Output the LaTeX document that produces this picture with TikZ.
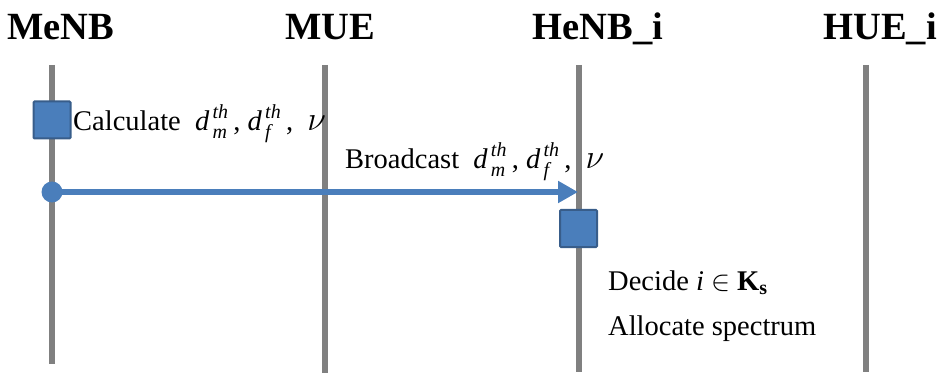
\RequirePackage{fix-cm}
\documentclass[tikz,border=0pt]{standalone}
\usepackage{amsmath}
\usepackage{fontspec}
\setmainfont{Liberation Serif}
\usetikzlibrary{arrows.meta}
\definecolor{lifegray}{HTML}{808080}
\definecolor{boxblue}{HTML}{4A7EBB}
\definecolor{boxedge}{HTML}{385D8A}
\tikzset{
  lifeline/.style={draw=lifegray, line width=6pt},
  title/.style={font=\fontsize{38.5}{44}\selectfont\bfseries, anchor=base, inner sep=0pt},
  label/.style={font=\fontsize{28.5}{34}\selectfont, anchor=base west, inner sep=0pt},
  actbox/.style={draw=boxedge, fill=boxblue, line width=2pt, minimum size=37pt, inner sep=0pt, rounded corners=1pt},
  msg/.style={draw=boxblue, line width=6pt, -{Triangle[length=20pt,width=21pt]}},
  dot/.style={circle, fill=boxblue, minimum size=21pt, inner sep=0pt}
}
\newcommand{\dth}[1]{$\textit{d}^{\,\textit{th}}_{\,\textit{#1}}$}
\newcommand{\bignu}{{\fontsize{34}{40}\selectfont$\nu$}}
\newcommand{\params}{\dth{m}\,, \dth{f}\,,\ \ \bignu}
\begin{document}
\begin{tikzpicture}[x=1pt,y=-1pt]
\useasboundingbox (0,0) rectangle (942,374);
% titles
\node[title] (tmenb) at (61,40) {MeNB};
\node[title] (tmue) at (330,40) {MUE};
\node[title] (thenb) at (598,40) {HeNB\_i};
\node[title] (thue) at (880,40) {HUE\_i};
% lifelines
\coordinate (a1) at (52,65);  \coordinate (a2) at (52,364);
\coordinate (b1) at (325,65); \coordinate (b2) at (325,373);
\coordinate (c1) at (579,65); \coordinate (c2) at (579,372);
\coordinate (d1) at (866,65); \coordinate (d2) at (866,372);
\draw[lifeline] (a1) -- (a2);
\draw[lifeline] (b1) -- (b2);
\draw[lifeline] (c1) -- (c2);
\draw[lifeline] (d1) -- (d2);
% activation boxes
\node[actbox] (box1) at (52,120) {};
\node[actbox] (box2) at (578.5,228.5) {};
% message
\node[dot] (start) at (52,192) {};
\coordinate (end) at (578,192);
\draw[msg] (start.center) -- (end);
% labels
\node[label] (calc) at (73,131) {Calculate\ \ \params};
\node[label] (bcast) at (345,169) {Broadcast\ \ \params};
\node[label] (decide) at (608,290) {Decide \textit{i} $\in$ \textbf{K}$_{\textbf{s}}$};
\node[label] (alloc) at (608,335) {Allocate spectrum};
\end{tikzpicture}
\end{document}
